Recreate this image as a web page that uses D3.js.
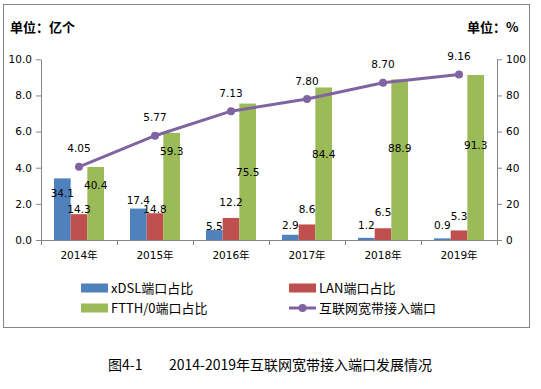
<!DOCTYPE html>
<html>
<head>
<meta charset="utf-8">
<script src="https://cdn.jsdelivr.net/npm/d3@7"></script>
<style>
  body { margin: 0; background: #fff; }
  svg text { font-family: "DejaVu Sans", "Noto Sans CJK SC", sans-serif; fill: #000; }
  .cjk { font-family: "Noto Sans CJK SC", sans-serif; }
</style>
</head>
<body>
<script>
// chart data
const years = ["2014年", "2015年", "2016年", "2017年", "2018年", "2019年"];
const xdsl = [34.1, 17.4, 5.5, 2.9, 1.2, 0.9];
const lan = [14.3, 14.8, 12.2, 8.6, 6.5, 5.3];
const ftth = [40.4, 59.3, 75.5, 84.4, 88.9, 91.3];
const ports = [4.05, 5.77, 7.13, 7.80, 8.70, 9.16];
const leftTicks = [0, 2, 4, 6, 8, 10];
const rightTicks = [0, 20, 40, 60, 80, 100];

// where the bar labels sit (in % units, as placed by hand in the original)
const labelAt = [
  [26.0, 22.1, 7.7, 7.9, 7.9, 7.9],
  [17.2, 17.2, 21.0, 17.2, 15.1, 12.9],
  [30.4, 49.3, 37.6, 47.6, 50.6, 52.6]
];

const series = [
  {name: "xDSL端口占比", values: xdsl, color: "#4F81BD"},
  {name: "LAN端口占比", values: lan, color: "#C0504D"},
  {name: "FTTH/0端口占比", values: ftth, color: "#9BBB59"}
];
const lineColor = "#8064A2";

const w = 541, h = 389;
const plotL = 41, plotR = 497, plotT = 59.3, plotB = 240;

const svg = d3.select("body").append("svg")
  .attr("width", w).attr("height", h);

// frame
svg.append("rect")
  .attr("x", 3.5).attr("y", 4.5)
  .attr("width", 526).attr("height", 323)
  .attr("fill", "none").attr("stroke", "#868686");

const x = d3.scaleBand().domain(years).range([plotL, plotR])
  .paddingInner(0.342).paddingOuter(0.171);
const xs = d3.scaleBand().domain(d3.range(3)).range([0, x.bandwidth()]);
const yL = d3.scaleLinear().domain([0, 10]).range([plotB, plotT]);
const yR = d3.scaleLinear().domain([0, 100]).range([plotB, plotT]);

// bars
series.forEach((s, si) => {
  svg.append("g").selectAll("rect")
    .data(s.values)
    .enter()
    .append("rect")
    .attr("x", (d, i) => x(years[i]) + xs(si))
    .attr("y", d => yR(d))
    .attr("width", xs.bandwidth())
    .attr("height", d => yR(0) - yR(d))
    .attr("fill", s.color);
});

// axes
const yAxisL = d3.axisLeft(yL).tickValues(leftTicks)
  .tickFormat(d3.format(".1f")).tickSize(5).tickSizeOuter(0).tickPadding(4);
const yAxisR = d3.axisRight(yR).tickValues(rightTicks)
  .tickSize(5).tickSizeOuter(0).tickPadding(4);

const gL = svg.append("g").attr("transform", "translate(" + plotL + ",0)").call(yAxisL);
const gR = svg.append("g").attr("transform", "translate(" + plotR + ",0)").call(yAxisR);

const xb = d3.scaleLinear().domain([0, years.length]).range([plotL, plotR]);
const gX = svg.append("g").attr("transform", "translate(0," + plotB + ")")
  .call(d3.axisBottom(xb).tickValues(d3.range(years.length + 1)).tickFormat("").tickSize(5).tickSizeOuter(0));

[gL, gR, gX].forEach(g => {
  g.select(".domain").attr("stroke", "#868686");
  g.selectAll(".tick line").attr("stroke", "#868686");
  g.selectAll("text").attr("font-size", 10.5).attr("fill", "#000")
    .attr("font-family", "DejaVu Sans");
});

// category labels
svg.append("g").selectAll("text")
  .data(years)
  .enter()
  .append("text")
  .attr("x", d => x(d) + x.bandwidth() / 2)
  .attr("y", 259)
  .attr("text-anchor", "middle")
  .attr("font-size", 10.5)
  .text(d => d);

// bar labels
series.forEach((s, si) => {
  svg.append("g").selectAll("text")
    .data(s.values)
    .enter()
    .append("text")
    .attr("x", (d, i) => x(years[i]) + xs(si) + xs.bandwidth() / 2)
    .attr("y", (d, i) => yR(labelAt[si][i]))
    .attr("dy", "0.35em")
    .attr("text-anchor", "middle")
    .attr("font-size", 10.5)
    .text(d => d.toFixed(1));
});

// line
const line = d3.line()
  .x((d, i) => x(years[i]) + x.bandwidth() / 2)
  .y(d => yL(d));

svg.append("path")
  .datum(ports)
  .attr("d", line)
  .attr("fill", "none")
  .attr("stroke", lineColor)
  .attr("stroke-width", 3);

svg.append("g").selectAll("circle")
  .data(ports)
  .enter()
  .append("circle")
  .attr("cx", (d, i) => x(years[i]) + x.bandwidth() / 2)
  .attr("cy", d => yL(d))
  .attr("r", 4)
  .attr("fill", lineColor);

svg.append("g").selectAll("text")
  .data(ports)
  .enter()
  .append("text")
  .attr("x", (d, i) => x(years[i]) + x.bandwidth() / 2)
  .attr("y", d => yL(d) - 18)
  .attr("dy", "0.35em")
  .attr("text-anchor", "middle")
  .attr("font-size", 10.5)
  .text(d => d.toFixed(2));

// unit labels
svg.append("text")
  .attr("class", "cjk")
  .attr("x", 10).attr("y", 32)
  .attr("font-size", 13).attr("font-weight", "bold")
  .text("单位：亿个");
svg.append("text")
  .attr("class", "cjk")
  .attr("x", 467).attr("y", 32)
  .attr("font-size", 13).attr("font-weight", "bold")
  .text("单位：%");

// legend
const legend = [
  {name: series[0].name, color: series[0].color, x: 81, y: 288, type: "rect"},
  {name: series[1].name, color: series[1].color, x: 289, y: 288, type: "rect"},
  {name: series[2].name, color: series[2].color, x: 81, y: 308, type: "rect"},
  {name: "互联网宽带接入端口", color: lineColor, x: 289, y: 308, type: "line"}
];

const lg = svg.append("g").selectAll("g")
  .data(legend)
  .enter()
  .append("g")
  .attr("transform", d => "translate(" + d.x + "," + d.y + ")");

lg.filter(d => d.type === "rect").append("rect")
  .attr("x", 0).attr("y", -4.5)
  .attr("width", 27).attr("height", 9)
  .attr("fill", d => d.color);
lg.filter(d => d.type === "line").append("line")
  .attr("x1", 0).attr("x2", 27)
  .attr("stroke", d => d.color).attr("stroke-width", 3);
lg.filter(d => d.type === "line").append("circle")
  .attr("cx", 13.5).attr("r", 4)
  .attr("fill", d => d.color);
lg.append("text")
  .attr("class", "cjk")
  .attr("x", 30).attr("dy", "0.36em")
  .attr("font-size", 13)
  .text(d => d.name);

// caption
svg.append("text")
  .attr("class", "cjk")
  .attr("x", 108).attr("y", 370)
  .attr("font-size", 14)
  .text("图4-1");
svg.append("text")
  .attr("class", "cjk")
  .attr("x", 169).attr("y", 370)
  .attr("font-size", 14)
  .text("2014-2019年互联网宽带接入端口发展情况");
</script>
</body>
</html>
